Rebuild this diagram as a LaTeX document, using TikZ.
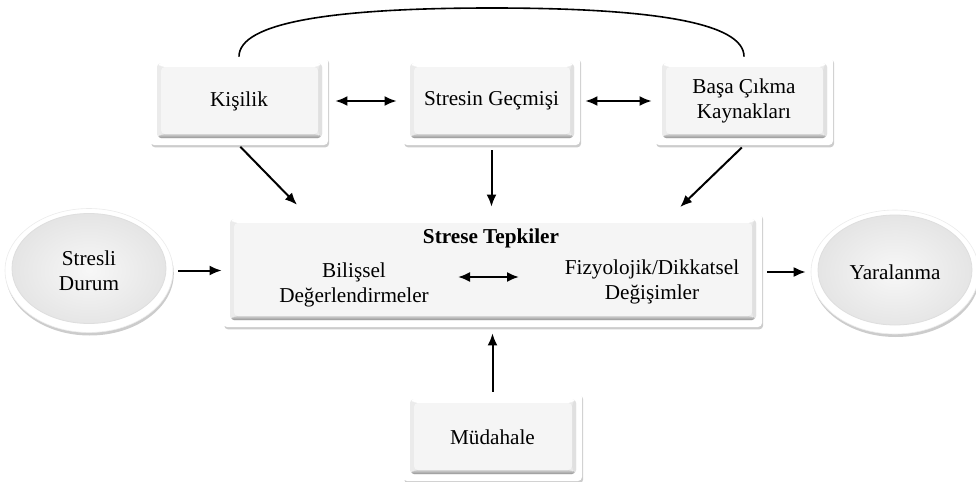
\documentclass[tikz,border=0pt]{standalone}
\usepackage{fontspec}
\setmainfont{Liberation Serif}
\usetikzlibrary{shadows,arrows.meta,shapes.geometric}
\begin{document}
\begin{tikzpicture}[x=0.5pt,y=-0.5pt,
  every node/.style={font=\fontsize{10.6}{12.6}\selectfont, align=center, text=black},
  bevelbox/.style={fill=white, rounded corners=2pt, inner sep=0pt,
    drop shadow={opacity=0.2, shadow xshift=0.6pt, shadow yshift=-1.2pt, fill=black},
    path picture={
      \path (path picture bounding box.north west) coordinate (pA)
            (path picture bounding box.south east) coordinate (pB);
      \coordinate (pSW) at (pA |- pB);
      \coordinate (pNE) at (pB |- pA);
      \fill[black!8] ([shift={(3.5pt,-3pt)}]pA) rectangle ([shift={(-3pt,3.5pt)}]pB);
      \fill[white] ([shift={(3.5pt,-3pt)}]pA) -- ([shift={(-3pt,-3pt)}]pNE) -- ([shift={(-5pt,-5pt)}]pNE) -- ([shift={(5.5pt,-5pt)}]pA) -- cycle;
      \fill[black!12] ([shift={(-3pt,-3pt)}]pNE) -- ([shift={(-3pt,3.5pt)}]pB) -- ([shift={(-5pt,5.5pt)}]pB) -- ([shift={(-5pt,-5pt)}]pNE) -- cycle;
      \shade[top color=black!18, bottom color=black!42] ([shift={(3.5pt,3.5pt)}]pSW) -- ([shift={(-3pt,3.5pt)}]pB) -- ([shift={(-5pt,5.5pt)}]pB) -- ([shift={(5.5pt,5.5pt)}]pSW) -- cycle;
      \fill[black!4] ([shift={(5.5pt,-5pt)}]pA) rectangle ([shift={(-5pt,5.5pt)}]pB);
    }},
  ringell/.style={ellipse, fill=white, draw=black!8, line width=0.3pt, inner sep=0pt,
    minimum width=84pt, minimum height=62pt,
    drop shadow={opacity=0.2, shadow xshift=0.4pt, shadow yshift=-1.5pt, fill=black},
    path picture={
      \shade[inner color=black!3, outer color=black!11]
        ([yshift=1pt]path picture bounding box.center) ellipse (38.5pt and 27.5pt);
      \draw[black!13, line width=0.4pt]
        ([yshift=1pt]path picture bounding box.center) ellipse (38.5pt and 27.5pt);
    }},
  txt/.style={inner sep=2pt},
  arr/.style={-{Latex[length=6pt,width=5pt]}, line width=1pt, black},
  dbl/.style={{Latex[length=6pt,width=5pt]}-{Latex[length=6pt,width=5pt]}, line width=1pt, black},
]
\useasboundingbox (0,0) rectangle (976,482);

% top boxes
\node[bevelbox, minimum width=89pt, minimum height=44pt] (kis) at (239,101) {Kişilik};
\node[bevelbox, minimum width=88.5pt, minimum height=44pt] (str) at (491.5,101) {Stresin Geçmişi};
\node[bevelbox, minimum width=89pt, minimum height=44pt] (bas) at (744,101) {Başa Çıkma\\Kaynakları};

% central box
\node[bevelbox, minimum width=269.5pt, minimum height=57pt] (cen) at (492.5,270) {};
\node[txt, font=\fontsize{10.6}{12.6}\selectfont\bfseries] (tit) at (491,238) {Strese Tepkiler};
\node[txt] (bil) at (354,285) {Bilişsel\\Değerlendirmeler};
\node[txt] (fiz) at (652,282) {Fizyolojik/Dikkatsel\\Değişimler};
\coordinate (d1) at (458,277);
\coordinate (d2) at (519,277);

% bottom box
\node[bevelbox, minimum width=89.5pt, minimum height=44pt] (mud) at (492.5,437) {Müdahale};

% ellipses
\node[ringell] (sd) at (89,270.5) {Stresli\\Durum};
\node[ringell] (yar) at (895,272) {Yaralanma};

% connectors
\coordinate (arctop) at (492,8);
\draw[line width=0.8pt] (kis.north) .. controls +(0,-34) and +(-160,0) .. (arctop)
                         .. controls +(160,0) and +(0,-34) .. (bas.north);

\draw[dbl, shorten <=3.5pt, shorten >=3pt] (kis.east) -- (str.west);
\draw[dbl, shorten <=2.5pt, shorten >=1.5pt] (str.east) -- (bas.west);

\draw[arr, shorten <=1pt, shorten >=5.5pt] (kis.south) -- ([xshift=41pt]cen.north west);
\draw[arr, shorten <=2.5pt, shorten >=3pt] (str.south) -- (str.south |- cen.north);
\draw[arr, shorten <=1.5pt, shorten >=4pt] (bas.south) -- ([xshift=-44pt]cen.north east);

\draw[arr, shorten <=2.5pt, shorten >=0.5pt] (sd.east) -- (sd.east -| cen.west);
\draw[arr, shorten <=2.5pt, shorten >=2.5pt] (cen.east |- yar.west) -- (yar.west);
\draw[arr, shorten <=0.5pt, shorten >=3pt] (mud.north) -- (cen.south);
\draw[dbl] (d1) -- (d2);
\end{tikzpicture}
\end{document}
